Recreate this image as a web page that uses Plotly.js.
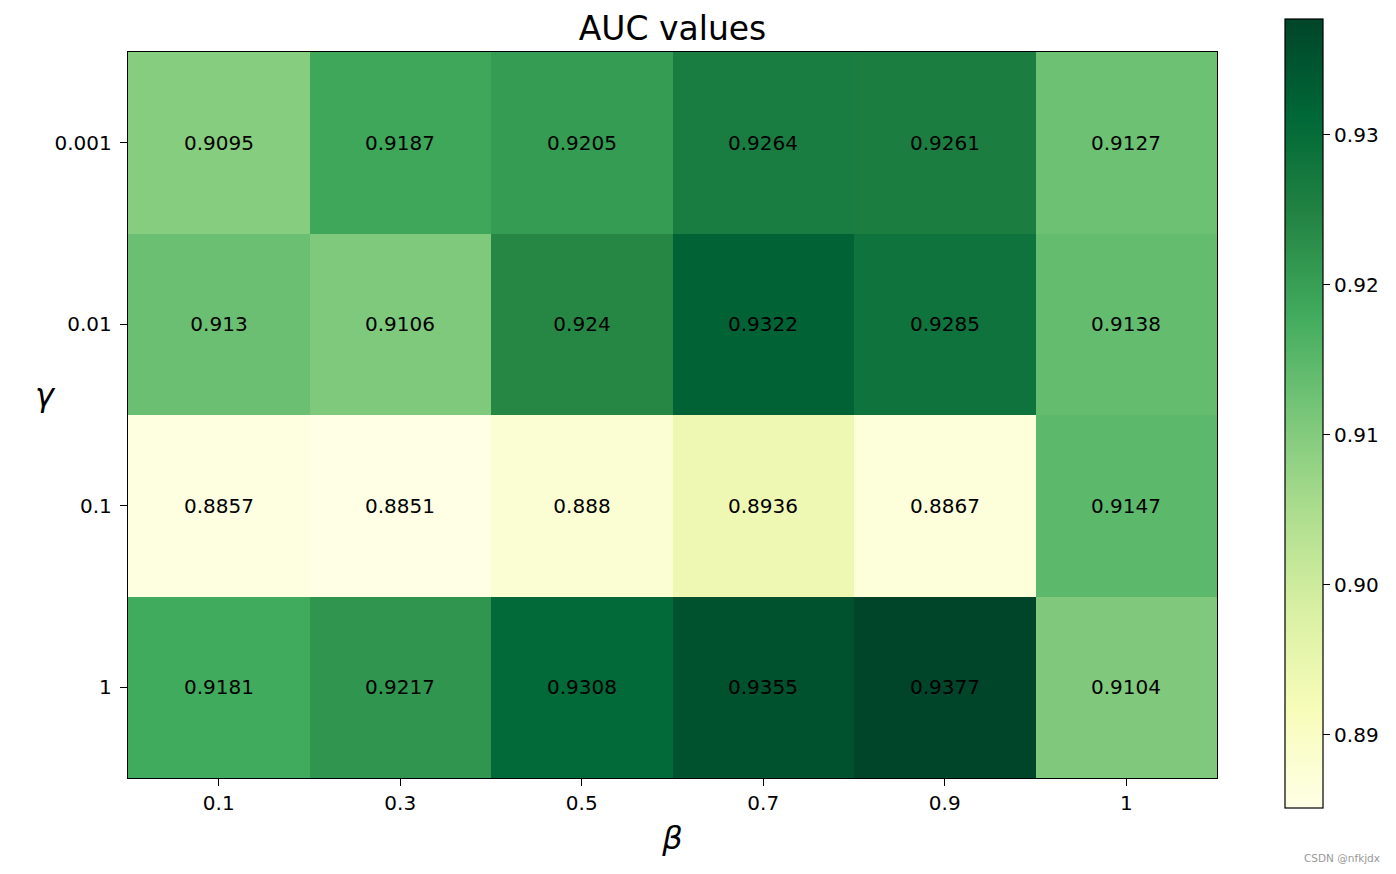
<!DOCTYPE html>
<html>
<head>
<meta charset="utf-8">
<script src="https://cdn.plot.ly/plotly-3.0.1.min.js"></script>
<style>html,body{margin:0;padding:0;background:#fff}#chart{width:1396px;height:874px}</style>
</head>
<body>
<div id="chart"></div>
<script>
const betaLabels = ['0.1', '0.3', '0.5', '0.7', '0.9', '1'];
const gammaLabels = ['0.001', '0.01', '0.1', '1'];
const aucG0001 = [0.9095, 0.9187, 0.9205, 0.9264, 0.9261, 0.9127];
const aucG001 = [0.913, 0.9106, 0.924, 0.9322, 0.9285, 0.9138];
const aucG01 = [0.8857, 0.8851, 0.888, 0.8936, 0.8867, 0.9147];
const aucG1 = [0.9181, 0.9217, 0.9308, 0.9355, 0.9377, 0.9104];
const colorTicks = [0.89, 0.90, 0.91, 0.92, 0.93];

const z = [aucG0001, aucG001, aucG01, aucG1];
const text = z.map(r => r.map(v => String(v)));
const allV = z.flat();
const zmin = Math.min(...allV), zmax = Math.max(...allV);

const ylgn = [
  [0.0, '#ffffe5'], [0.125, '#f7fcb9'], [0.25, '#d9f0a3'], [0.375, '#addd8e'],
  [0.5, '#78c679'], [0.625, '#41ab5d'], [0.75, '#238443'], [0.875, '#006837'], [1.0, '#004529']
];

const L = 128, R = 179, T = 52, B = 96, W = 1396, H = 874;
const pw = W - L - R, ph = H - T - B;
const FS = 20;

const trace = {
  type: 'heatmap',
  x: betaLabels,
  y: gammaLabels,
  z: z,
  text: text,
  texttemplate: '%{text}',
  textfont: {family: 'DejaVu Sans', size: FS, color: '#000'},
  colorscale: ylgn,
  zmin: zmin, zmax: zmax,
  xgap: 0, ygap: 0,
  hoverinfo: 'skip',
  colorbar: {
    x: (1285 - L) / pw, xanchor: 'left', xref: 'paper',
    y: (H - B - 413.5) / ph, yanchor: 'middle',
    len: 789, lenmode: 'pixels',
    thickness: 38, thicknessmode: 'pixels',
    outlinewidth: 1.2, outlinecolor: '#000',
    tickvals: colorTicks,
    tickformat: '.2f',
    ticks: 'outside', ticklen: 7, tickwidth: 1.2, tickcolor: '#000',
    tickfont: {family: 'DejaVu Sans', size: FS, color: '#000'},
    ticklabelstandoff: 10,
    xpad: 0, ypad: 0
  }
};

const layout = {
  width: W, height: H,
  margin: {l: L, r: R, t: T, b: B, pad: 0},
  paper_bgcolor: '#fff', plot_bgcolor: '#fff',
  font: {family: 'DejaVu Sans', color: '#000'},
  title: {text: 'AUC values', font: {family: 'DejaVu Sans', size: 33, color: '#000'},
          x: 0.5, xref: 'paper', xanchor: 'center', y: 1 - 28 / H, yref: 'container', yanchor: 'middle'},
  xaxis: {
    type: 'category', showgrid: false, zeroline: false,
    showline: true, linecolor: '#000', linewidth: 1.2, mirror: true,
    ticks: 'outside', ticklen: 7, tickwidth: 1.2, tickcolor: '#000',
    tickfont: {family: 'DejaVu Sans', size: FS, color: '#000'},
    ticklabelstandoff: 0,
    title: {text: '<i>β</i>', font: {family: 'DejaVu Sans', size: 32, color: '#000'}, standoff: 12}
  },
  yaxis: {
    type: 'category', autorange: 'reversed', showgrid: false, zeroline: false,
    showline: true, linecolor: '#000', linewidth: 1.2, mirror: true,
    ticks: 'outside', ticklen: 7, tickwidth: 1.2, tickcolor: '#000',
    tickfont: {family: 'DejaVu Sans', size: FS, color: '#000'},
    ticklabelstandoff: 4
  },
  annotations: [{
    text: '<i>γ</i>', xref: 'paper', yref: 'paper',
    x: (45 - L) / pw, y: (H - B - 395) / ph, xanchor: 'center', yanchor: 'middle',
    showarrow: false, font: {family: 'DejaVu Sans', size: 32, color: '#000'}
  }, {
    text: 'CSDN @nfkjdx', xref: 'paper', yref: 'paper',
    x: (1382 - L) / pw, y: -(858 - (H - B)) / ph, xanchor: 'right', yanchor: 'middle',
    showarrow: false, font: {family: 'DejaVu Sans', size: 10.5, color: '#999'}
  }]
};

Plotly.newPlot('chart', [trace], layout, {displayModeBar: false, staticPlot: true});
</script>
</body>
</html>
